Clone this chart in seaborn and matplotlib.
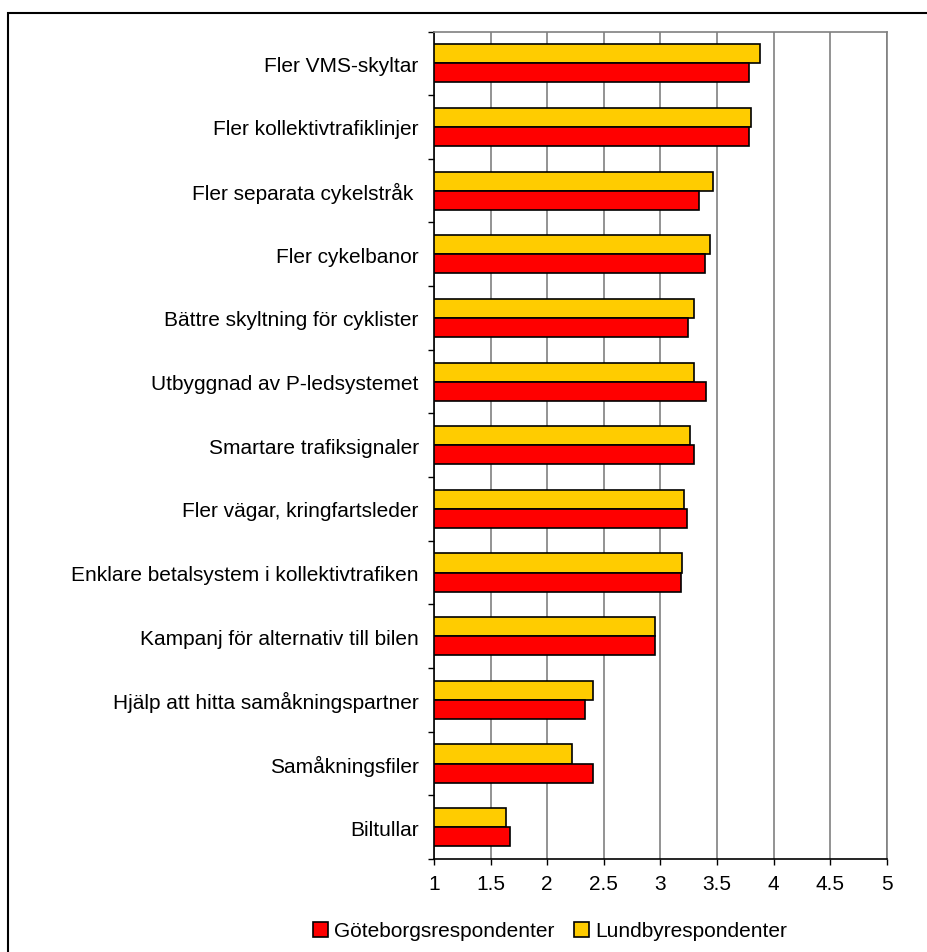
import numpy as np
import pandas as pd
import matplotlib.pyplot as plt
from matplotlib.patches import Patch, Rectangle
from matplotlib.ticker import FixedLocator, FuncFormatter
import seaborn as sns

# data (top to bottom)
atgarder = [
    "Fler VMS-skyltar",
    "Fler kollektivtrafiklinjer",
    "Fler separata cykelstråk ",
    "Fler cykelbanor",
    "Bättre skyltning för cyklister",
    "Utbyggnad av P-ledsystemet",
    "Smartare trafiksignaler",
    "Fler vägar, kringfartsleder",
    "Enklare betalsystem i kollektivtrafiken",
    "Kampanj för alternativ till bilen",
    "Hjälp att hitta samåkningspartner",
    "Samåkningsfiler",
    "Biltullar",
]
goteborg = [3.78, 3.78, 3.34, 3.39, 3.24, 3.40, 3.30, 3.23, 3.18, 2.95, 2.33, 2.40, 1.67]
lundby = [3.88, 3.80, 3.46, 3.44, 3.30, 3.30, 3.26, 3.21, 3.19, 2.95, 2.40, 2.22, 1.64]

GBG = "Göteborgsrespondenter"
LUN = "Lundbyrespondenter"
farger = {GBG: "#FF0000", LUN: "#FFCC00"}

df = pd.concat([
    pd.DataFrame({"atgard": atgarder, "varde": lundby, "grupp": LUN}),
    pd.DataFrame({"atgard": atgarder, "varde": goteborg, "grupp": GBG}),
])

sns.set_style("white")
plt.rcParams["font.family"] = ["Liberation Sans", "DejaVu Sans"]
plt.rcParams["text.color"] = "black"
plt.rcParams["xtick.color"] = "black"
plt.rcParams["ytick.color"] = "black"

fig = plt.figure(figsize=(9.28, 9.53), dpi=100)
ax = fig.add_axes([434 / 928, 1 - 860 / 953, (887 - 434) / 928, (860 - 32.5) / 953])

sns.barplot(data=df, y="atgard", x="varde", hue="grupp", hue_order=[LUN, GBG],
            order=atgarder, palette=farger, saturation=1, orient="h", width=0.6,
            edgecolor="black", linewidth=1.2, legend=False, ax=ax)

ax.set_xlim(1, 5)
ax.set_ylim(len(atgarder) - 0.5, -0.5)
ax.set_xticks(np.arange(1, 5.01, 0.5))
ax.xaxis.set_major_formatter(FuncFormatter(lambda v, p: f"{v:g}"))
ax.set_axisbelow(True)
ax.xaxis.grid(True, color="#808080", lw=1.2)
ax.yaxis.grid(False)
ax.set_xlabel("")
ax.set_ylabel("")

ax.yaxis.set_minor_locator(FixedLocator(np.arange(-0.5, len(atgarder), 1)))
ax.tick_params(axis="y", which="major", length=0, pad=11, labelsize=15, labelcolor="black")
ax.tick_params(axis="y", which="minor", left=True, length=4.5, width=1, color="black")
ax.tick_params(axis="x", bottom=True, length=4.5, width=1, color="black", pad=6,
               labelsize=15, labelcolor="black")

for side in ["left", "bottom"]:
    ax.spines[side].set_color("black")
    ax.spines[side].set_linewidth(1.2)
for side in ["top", "right"]:
    ax.spines[side].set_color("#808080")
    ax.spines[side].set_linewidth(1.2)

# outer chart frame (runs off the right and bottom edges)
top = 1 - 14 / 953
fig.patches.append(Rectangle((8 / 928, -0.2), 1.3, top + 0.2, fill=False,
                             edgecolor="black", lw=1.5, transform=fig.transFigure))

handles = [Patch(facecolor=farger[GBG], edgecolor="black", lw=1.2, label=GBG),
           Patch(facecolor=farger[LUN], edgecolor="black", lw=1.2, label=LUN)]
fig.legend(handles=handles, loc="center", bbox_to_anchor=(550 / 928, 1 - 932 / 953),
           ncol=2, frameon=False, fontsize=15, handlelength=0.75, handleheight=0.75,
           handletextpad=0.3, columnspacing=0.9)

fig.savefig("out.png", dpi=100)
